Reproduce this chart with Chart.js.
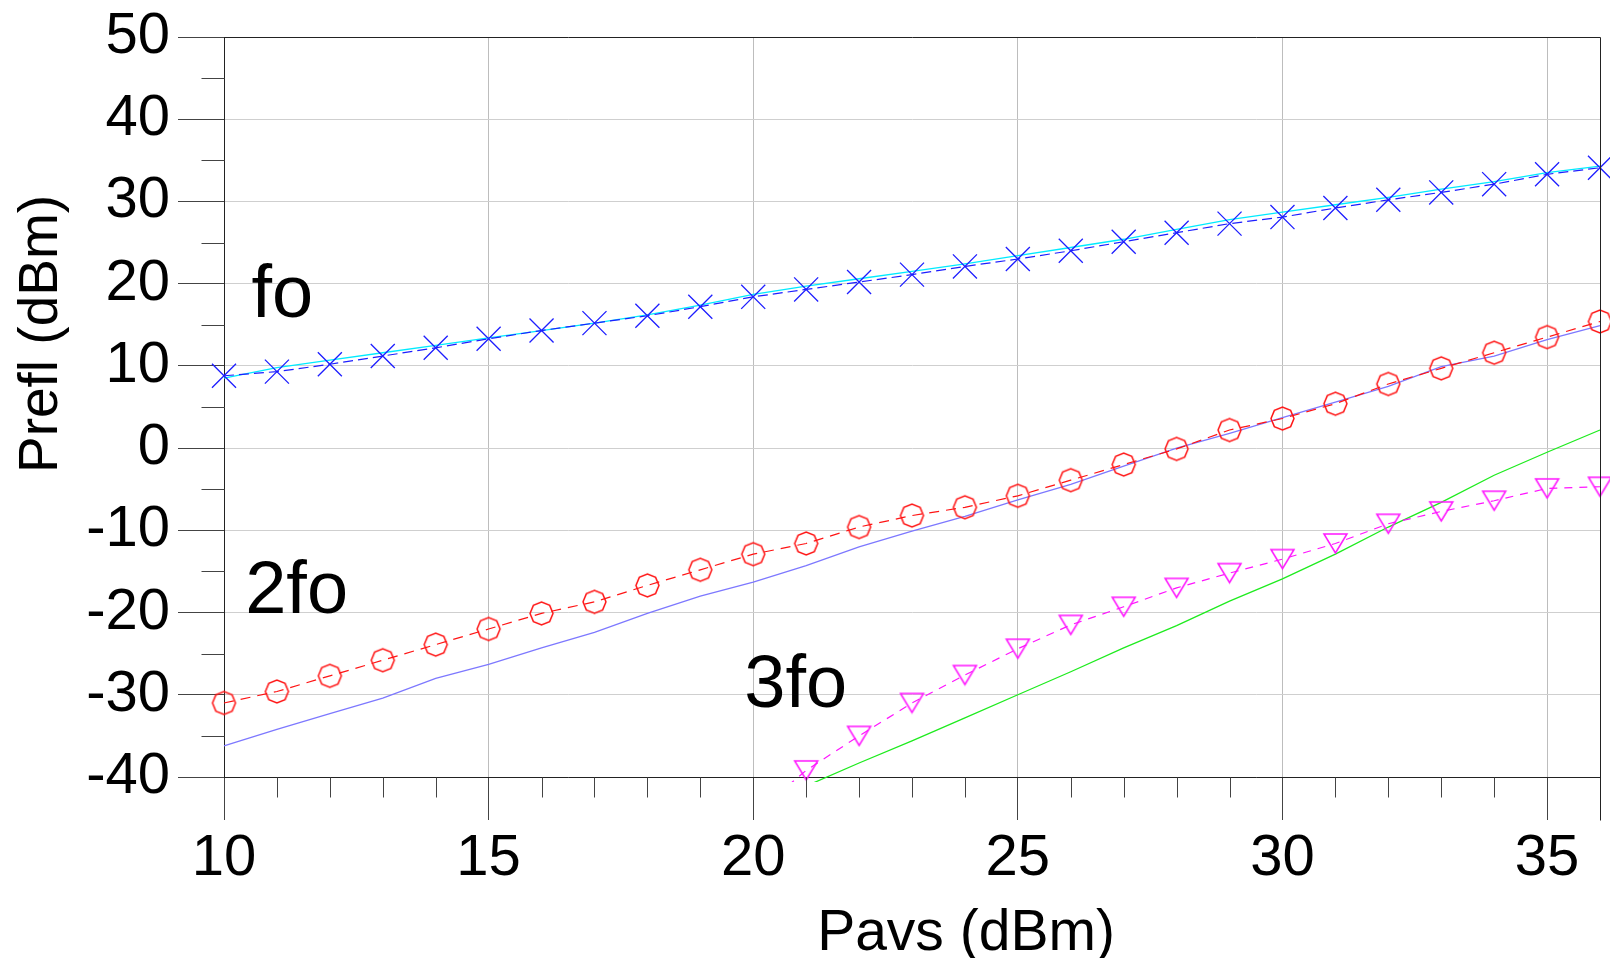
<!DOCTYPE html>
<html>
<head>
<meta charset="utf-8">
<title>Prefl vs Pavs</title>
<script src="https://cdn.jsdelivr.net/npm/chart.js@4.4.1/dist/chart.umd.min.js"></script>
<style>
  html, body { margin: 0; padding: 0; background: #fff; }
  canvas { display: block; }
</style>
</head>
<body>
<canvas id="harmChart" width="1610" height="958"></canvas>
<script>
'use strict';

// input power sweep (dBm)
const pavs = [10, 11, 12, 13, 14, 15, 16, 17, 18, 19, 20, 21, 22, 23, 24, 25, 26, 27, 28, 29, 30, 31, 32, 33, 34, 35, 36];
// reflected power at fo / 2fo (dBm)
const foMeas = [8.8, 9.3, 10.2, 11.2, 12.2, 13.3, 14.3, 15.2, 16.1, 17.2, 18.4, 19.3, 20.2, 21.1, 22.1, 23.0, 24.0, 25.1, 26.2, 27.3, 28.1, 29.2, 30.2, 31.1, 32.1, 33.3, 34.1];
const foSim = [8.5, 9.8, 10.7, 11.6, 12.5, 13.4, 14.3, 15.2, 16.2, 17.4, 18.7, 19.7, 20.6, 21.5, 22.4, 23.4, 24.4, 25.4, 26.6, 27.8, 28.7, 29.6, 30.5, 31.5, 32.4, 33.5, 34.3];
const fo2Meas = [-31.0, -29.6, -27.7, -25.8, -23.9, -22.0, -20.1, -18.7, -16.7, -14.8, -12.9, -11.6, -9.6, -8.2, -7.2, -5.8, -3.9, -2.0, -0.1, 2.2, 3.6, 5.4, 7.8, 9.7, 11.6, 13.5, 15.4];
const fo2Sim = [-36.2, -34.2, -32.3, -30.4, -28.0, -26.3, -24.3, -22.4, -20.1, -18.0, -16.3, -14.3, -12.0, -10.1, -8.3, -6.3, -4.4, -2.2, 0.0, 1.8, 3.7, 5.6, 7.5, 9.9, 11.2, 13.2, 14.9];
// 3fo only starts showing up near the bottom of the plot
const pavs3Meas = [20, 21, 22, 23, 24, 25, 26, 27, 28, 29, 30, 31, 32, 33, 34, 35, 36];
const fo3Meas = [-44.6, -39.2, -35.0, -31.0, -27.6, -24.4, -21.5, -19.3, -17.0, -15.2, -13.5, -11.6, -9.2, -7.7, -6.4, -4.9, -4.7];
const pavs3Sim = [21, 22, 23, 24, 25, 26, 27, 28, 29, 30, 31, 32, 33, 34, 35, 36];
const fo3Sim = [-41.1, -38.3, -35.6, -32.8, -30.0, -27.2, -24.3, -21.6, -18.6, -15.9, -12.9, -9.6, -6.6, -3.3, -0.5, 2.2];

const xTicks = [10, 15, 20, 25, 30, 35];
const yTicks = [-40, -30, -20, -10, 0, 10, 20, 30, 40, 50];

const harmLabels = ['fo', '2fo', '3fo'];
const harmLabelX = [10.52, 10.4, 19.83];
const harmLabelY = [15.9, -20.0, -31.5];

const ctx = document.getElementById('harmChart').getContext('2d');
Chart.defaults.font.family = "'Liberation Sans', Arial, Helvetica, sans-serif";
Chart.defaults.color = '#000';

function toPoints(xs, ys) {
  return xs.map((x, i) => ({ x: x, y: ys[i] }));
}

function makeOctagon(r, color) {
  const size = Math.ceil(2 * r + 4);
  const c = document.createElement('canvas');
  c.width = size;
  c.height = size;
  const g = c.getContext('2d');
  g.strokeStyle = color;
  g.lineWidth = 1.5;
  g.beginPath();
  for (let k = 0; k < 8; k++) {
    const a = k * Math.PI / 4;
    const px = size / 2 + r * Math.cos(a);
    const py = size / 2 + r * Math.sin(a);
    if (k === 0) g.moveTo(px, py); else g.lineTo(px, py);
  }
  g.closePath();
  g.stroke();
  return c;
}

function makeDownTriangle(w, h, color) {
  const c = document.createElement('canvas');
  c.width = w + 4;
  c.height = h + 4;
  const g = c.getContext('2d');
  g.strokeStyle = color;
  g.lineWidth = 1.5;
  g.beginPath();
  g.moveTo(2, 2);
  g.lineTo(w + 2, 2);
  g.lineTo(c.width / 2, h + 2);
  g.closePath();
  g.stroke();
  return c;
}

const blue = 'rgb(30, 30, 255)';
const cyan = 'rgb(0, 235, 255)';
const red = 'rgb(255, 20, 20)';
const lilac = 'rgb(125, 120, 255)';
const magenta = 'rgb(255, 20, 255)';
const green = 'rgb(30, 235, 30)';
const clipBox = { left: 20, right: 20, top: 20, bottom: 5 };

// frame, minor ticks, axis titles and the harmonic labels
const framePlugin = {
  id: 'frame',
  afterDraw(chart) {
    const c = chart.ctx;
    const area = chart.chartArea;
    const xs = chart.scales.x;
    const ys = chart.scales.y;
    const top = Math.round(area.top) + 0.5;
    const right = Math.round(area.right) + 0.5;
    const bottom = Math.round(area.bottom) + 0.5;
    const left = Math.round(area.left) + 0.5;
    c.save();
    c.lineWidth = 1;
    c.strokeStyle = '#222';
    c.beginPath();
    c.moveTo(left, top);
    c.lineTo(right, top);
    c.moveTo(right, top);
    c.lineTo(right, bottom + 43);
    c.stroke();

    c.strokeStyle = '#444';
    c.beginPath();
    for (let v = 11; v < 36; v++) {
      if (v % 5 === 0) continue;
      const px = Math.round(xs.getPixelForValue(v)) + 0.5;
      c.moveTo(px, bottom);
      c.lineTo(px, bottom + 20);
    }
    for (let v = -35; v < 50; v += 10) {
      const py = Math.round(ys.getPixelForValue(v)) + 0.5;
      c.moveTo(left - 23, py);
      c.lineTo(left, py);
    }
    c.stroke();

    c.fillStyle = '#000';
    c.font = "74px 'Liberation Sans', Arial, sans-serif";
    c.textAlign = 'left';
    c.textBaseline = 'alphabetic';
    for (let i = 0; i < harmLabels.length; i++) {
      c.fillText(harmLabels[i], xs.getPixelForValue(harmLabelX[i]), ys.getPixelForValue(harmLabelY[i]));
    }

    c.textAlign = 'center';
    c.font = "57px 'Liberation Sans', Arial, sans-serif";
    c.fillText('Pavs (dBm)', 966, 950);

    c.translate(57, 334);
    c.rotate(-Math.PI / 2);
    c.font = "55px 'Liberation Sans', Arial, sans-serif";
    c.fillText('Prefl (dBm)', 0, 0);
    c.restore();
  }
};

function renderChart() {
  const chartObj = {
    type: 'line',
    data: {
      datasets: [{
        label: 'fo',
        data: toPoints(pavs, foMeas),
        borderColor: blue,
        borderWidth: 1.2,
        borderDash: [10, 5],
        pointStyle: 'crossRot',
        pointRadius: 17,
        pointBorderColor: blue,
        pointBorderWidth: 1.3,
        clip: clipBox
      }, {
        label: '2fo',
        data: toPoints(pavs, fo2Meas),
        borderColor: red,
        borderWidth: 1.2,
        borderDash: [10, 7],
        pointStyle: makeOctagon(11.5, red),
        pointRadius: 12,
        clip: clipBox
      }, {
        label: '3fo',
        data: toPoints(pavs3Meas, fo3Meas),
        borderColor: magenta,
        borderWidth: 1.2,
        borderDash: [8, 7],
        pointStyle: makeDownTriangle(23, 19, magenta),
        pointRadius: fo3Meas.map((v, i) => (i === 0 ? 0 : 12)),
        clip: clipBox
      }, {
        label: 'fo sim',
        data: toPoints(pavs, foSim),
        borderColor: cyan,
        borderWidth: 1.3,
        pointRadius: 0,
        clip: clipBox
      }, {
        label: '2fo sim',
        data: toPoints(pavs, fo2Sim),
        borderColor: lilac,
        borderWidth: 1.3,
        pointRadius: 0,
        clip: clipBox
      }, {
        label: '3fo sim',
        data: toPoints(pavs3Sim, fo3Sim),
        borderColor: green,
        borderWidth: 1.3,
        pointRadius: 0,
        clip: clipBox
      }]
    },
    options: {
      responsive: false,
      animation: false,
      events: [],
      layout: { autoPadding: false, padding: { top: 37, right: 10, left: 0, bottom: 0 } },
      plugins: {
        legend: { display: false },
        tooltip: { enabled: false }
      },
      scales: {
        x: {
          type: 'linear',
          min: 10,
          max: 36,
          afterBuildTicks: s => { s.ticks = xTicks.map(v => ({ value: v })); },
          afterFit: s => {
            s.height = 181;
            s.paddingLeft = 0;
            s.paddingRight = 0;
          },
          ticks: {
            font: { size: 58 },
            padding: 4,
            maxRotation: 0,
            autoSkip: false,
            callback: v => String(v)
          },
          grid: { color: '#bdbdbd', tickColor: '#444', tickLength: 43 },
          border: { color: '#222', width: 1 }
        },
        y: {
          min: -40,
          max: 50,
          afterBuildTicks: s => { s.ticks = yTicks.map(v => ({ value: v })); },
          afterFit: s => {
            s.width = 224;
            s.paddingTop = 0;
            s.paddingBottom = 0;
          },
          ticks: {
            font: { size: 58 },
            padding: 8,
            autoSkip: false,
            callback: v => String(v)
          },
          grid: { color: '#cfcfcf', tickColor: '#444', tickLength: 46 },
          border: { color: '#222', width: 1 }
        }
      }
    },
    plugins: [framePlugin]
  };
  return new Chart(ctx, chartObj);
}

renderChart();
</script>
</body>
</html>
